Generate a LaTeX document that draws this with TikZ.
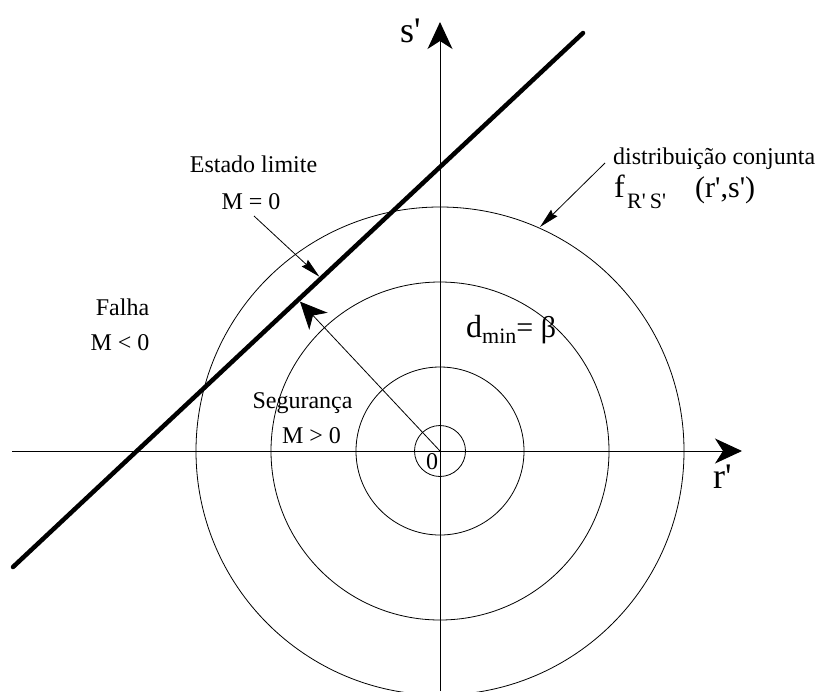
\documentclass[tikz,border=0pt]{standalone}
\usepackage{fontspec}
\setmainfont{Liberation Serif}
\usetikzlibrary{arrows.meta,calc}
\newcommand{\qs}{\textquotesingle}
\begin{document}
\begin{tikzpicture}[x=1pt,y=-1pt,
  axisline/.style={line width=1pt, draw=black},
  ring/.style={line width=0.8pt},
  bigtip/.style={-{Stealth[length=27pt,width=25pt,inset=8pt]}},
  smalltip/.style={-{Stealth[length=20pt,width=9pt,inset=2pt]}, line width=0.8pt},
  lbl/.style={inner sep=0pt, anchor=base, font=\fontsize{24}{28}\selectfont},
  biglbl/.style={inner sep=0pt, anchor=base west, font=\fontsize{30}{34}\selectfont},
]
\useasboundingbox (0,0) rectangle (835,691);
\coordinate (O) at (440,451);
% circles
\draw[ring] (O) circle[radius=25.5];
\draw[ring] (O) circle[radius=84];
\draw[ring] (O) circle[radius=169];
\draw[ring] (O) circle[radius=244];
% axes
\coordinate (xl) at (12,451);
\coordinate (xr) at (742,451);
\coordinate (yb) at (440,691);
\coordinate (yt) at (440,22);
\draw[axisline,bigtip] (xl) -- (xr);
\draw[axisline,bigtip] (yb) -- (yt);
% limit state line
\coordinate (A) at (13,567);
\coordinate (B) at (583,33);
\draw[line width=4.5pt, line cap=round] (A) -- (B);
% d_min arrow
\coordinate (F) at ($(A)!(O)!(B)$);
\draw[ring,bigtip,shorten >=2.5pt] (O) -- (F);
% estado limite arrow
\coordinate (e1) at (254,216);
\coordinate (e2) at ($(A)!(320,277)!(B)$);
\draw[smalltip,shorten >=2.3pt] (e1) -- (e2);
% distribution arrow
\coordinate (d1) at (605,163);
\coordinate (d2) at (540,227);
\draw[smalltip] (d1) -- (d2);
% labels
\node[lbl] (est) at (253.5,172) {Estado limite};
\node[lbl] (m0) at (251,209) {M = 0};
\node[lbl] (fal) at (122.5,315) {Falha};
\node[lbl] (mlt) at (120,350) {M < 0};
\node[lbl] (seg) at (302.5,408) {Segurança};
\node[lbl] (mgt) at (311.5,443) {M > 0};
\node[lbl] (zero) at (432,469) {0};
\node[lbl, anchor=base west] (dist) at (613,164) {distribuição conjunta};
\node[biglbl, font=\fontsize{32}{36}\selectfont] (f) at (614,197) {f};
\node[inner sep=0pt, anchor=base west, font=\fontsize{22}{26}\selectfont] (sub) at (627,208) {R\qs\hspace{4pt}S\qs};
\node[biglbl] (args) at (695,197) {(r\qs,s\qs)};
\node[biglbl] (dmin) at (466,337) {\fontsize{32}{36}\selectfont d\raisebox{-6pt}{\fontsize{22}{26}\selectfont min}\fontsize{30}{34}\selectfont= β};
\node[biglbl, font=\fontsize{36}{40}\selectfont] (sl) at (400,42) {s\qs};
\node[biglbl, font=\fontsize{36}{40}\selectfont] (rl) at (713,488) {r\qs};
\end{tikzpicture}
\end{document}
